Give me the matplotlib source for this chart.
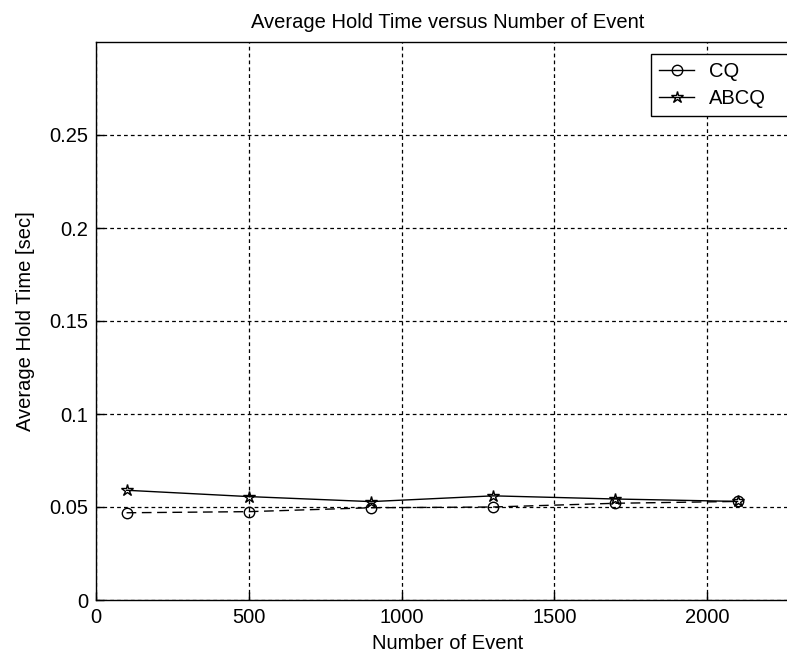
import matplotlib
matplotlib.use('Agg')
import matplotlib.pyplot as plt
from matplotlib.lines import Line2D

plt.rcParams['font.family'] = ['Liberation Sans', 'DejaVu Sans']

events = [100, 500, 900, 1300, 1700, 2100]
cq = [0.0469, 0.0475, 0.0496, 0.0500, 0.0520, 0.0530]
abcq = [0.0590, 0.0556, 0.0529, 0.0560, 0.0543, 0.0530]
x_ticks = [0, 500, 1000, 1500, 2000]
y_ticks = [0, 0.05, 0.1, 0.15, 0.2, 0.25]
y_labels = ['0', '0.05', '0.1', '0.15', '0.2', '0.25']

FS = 14.5
W, H = 787, 655

fig = plt.figure(figsize=(W / 100, H / 100), dpi=100)
# axes: left 96px, bottom 600px, top 42px, x right end runs past the figure edge
ax = fig.add_axes([96 / W, (H - 600) / H, 702.7 / W, 558 / H])

ax.plot(events, abcq, color='black', lw=1, marker='*', markersize=9,
        markerfacecolor='none', markeredgewidth=1, zorder=3)
ax.plot(events, cq, color='black', lw=1, ls=(0, (7, 4)), marker='o', markersize=7.5,
        markerfacecolor='none', markeredgewidth=1, zorder=3)

ax.set_xlim(0, 2300)
ax.set_ylim(0, 0.3)
ax.set_xticks(x_ticks, [str(v) for v in x_ticks], fontsize=FS)
ax.set_yticks(y_ticks, y_labels, fontsize=FS)
ax.tick_params(axis='y', direction='in', length=6, width=1, pad=5.5)
ax.tick_params(axis='x', direction='in', length=6, width=1, pad=6)
ax.grid(True, color='black', ls=(0, (3, 2.5)), lw=0.9)

for s in ax.spines.values():
    s.set_linewidth(1)

ax.set_title('Average Hold Time versus Number of Event', fontsize=FS, pad=10)
ax.set_xlabel('Number of Event', fontsize=FS, labelpad=5)
ax.set_ylabel('Average Hold Time [sec]', fontsize=FS, labelpad=10.5)

handles = [
    Line2D([], [], color='black', lw=1, marker='o', markersize=7.5, markerfacecolor='none'),
    Line2D([], [], color='black', lw=1, marker='*', markersize=9, markerfacecolor='none'),
]
# legend box runs off the right edge of the figure like in the original
leg = fig.legend(handles, ['CQ', 'ABCQ'], loc='upper left', fontsize=FS,
                 bbox_to_anchor=(651 / W, 1 - 54 / H, 160 / W, 0), mode='expand',
                 bbox_transform=fig.transFigure,
                 frameon=True, fancybox=False, edgecolor='black', framealpha=1,
                 borderaxespad=0, borderpad=0.4, handlelength=1.75, handletextpad=0.75,
                 labelspacing=0.4)
leg.get_frame().set_linewidth(1)

fig.savefig('out.png', dpi=100)
